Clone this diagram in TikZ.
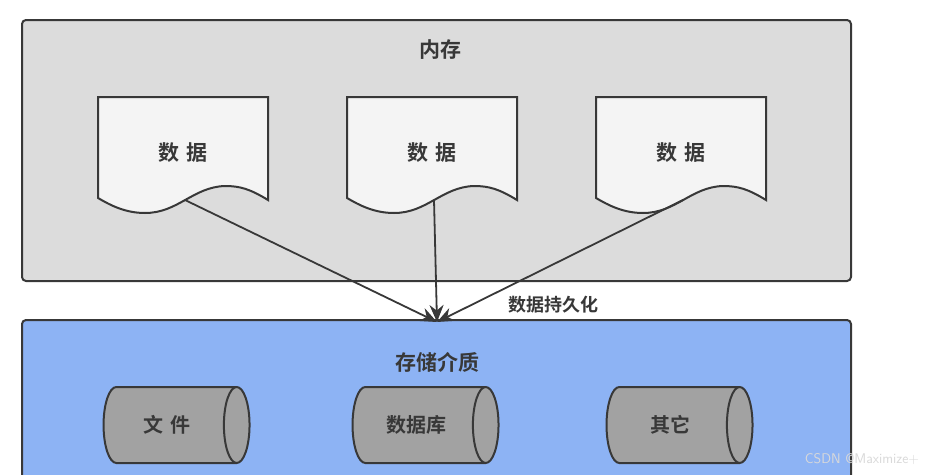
\documentclass[tikz,border=0pt]{standalone}
\usepackage{fontspec}
\setmainfont{Noto Sans CJK SC Bold}
\usetikzlibrary{arrows.meta,shapes.geometric}
\definecolor{memgray}{HTML}{DCDCDC}
\definecolor{docwhite}{HTML}{F4F4F4}
\definecolor{mediablue}{HTML}{8DB3F4}
\definecolor{drumgray}{HTML}{A2A2A2}
\definecolor{edge}{HTML}{383838}
\tikzset{
  panel/.style={draw=edge, line width=2pt, rounded corners=4pt},
  docbox/.style={draw=edge, line width=2pt, fill=docwhite},
  title/.style={font=\fontsize{21}{24}\selectfont, text=edge},
  store/.style={cylinder, draw=edge, line width=2pt, fill=drumgray,
    minimum height=146pt, minimum width=76pt, aspect=1.0,
    font=\fontsize{20}{24}\selectfont, text=edge},
  flow/.style={-{Stealth[length=17pt,width=14pt]}, draw=edge, line width=1.8pt}
}
\begin{document}
\begin{tikzpicture}[x=1pt,y=-1pt]
    \useasboundingbox (0,0) rectangle (939,474);
    \fill[white] (0,0) rectangle (939,474);
    \draw[panel, fill=memgray] (22,20) rectangle (851,281);
    \node[title] (mem) at (440,50) {内存};
    \foreach \n/\x in {a/98,b/347,c/596} {
        \draw[docbox] (\x,97) -- ({\x+170},97) -- ({\x+170},200)
            .. controls ({\x+152},189) and ({\x+142},186) .. ({\x+127},186)
            .. controls ({\x+95},187) and ({\x+80},213) .. ({\x+47},213)
            .. controls ({\x+27},213) and ({\x+12},205) .. (\x,198) -- cycle;
        \node[title] (\n) at ({\x+85},153) {数\,\,据};
        \coordinate (\n-out) at ({\x+87},200);
    }
    \draw[panel, fill=mediablue] (22,320) rectangle (851,500);
    \coordinate (sink) at (437,322);
    \draw[flow] (a-out) -- (sink);
    \draw[flow] (b-out) -- (sink);
    \draw[flow] (c-out) -- (sink);
    \node[title, font=\fontsize{18}{21}\selectfont] (persist) at (553,305) {数据持久化};
    \node[title] (media) at (437,362) {存储介质};
    \node[store] (file) at (167,425) {文\,\,件};
    \node[store] (db) at (416,425) {数据库};
    \node[store] (other) at (670,425) {其它};
    \node[font=\fontsize{14}{16}\selectfont\sffamily, text=gray!30] (mark) at (862,459) {CSDN @Maximize+};
\end{tikzpicture}
\end{document}
